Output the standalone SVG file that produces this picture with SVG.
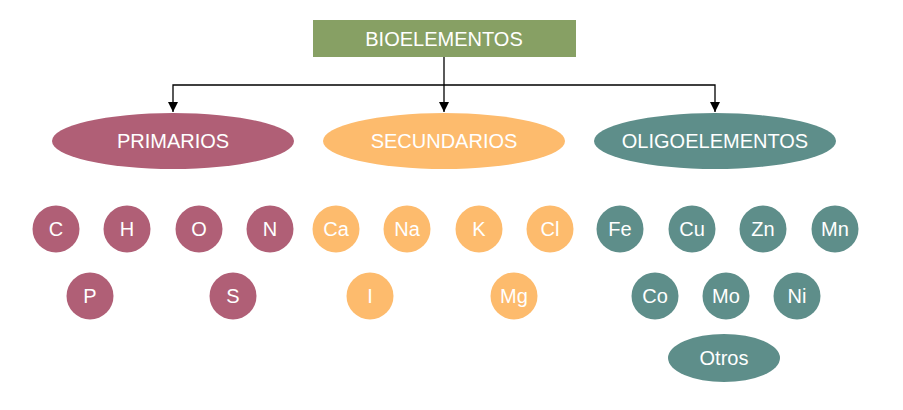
<svg xmlns="http://www.w3.org/2000/svg" width="903" height="410" viewBox="0 0 903 410">
<style>
text{font-family:"Liberation Sans",Arial,sans-serif;fill:#fff;text-anchor:middle;dominant-baseline:central;font-size:20px}
.p{fill:#b05f76}.s{fill:#fdbb6d}.o{fill:#5e8e8a}
</style>
<defs><marker id="a" viewBox="0 0 10 10" refX="10" refY="5" markerWidth="10" markerHeight="12" markerUnits="userSpaceOnUse" orient="auto"><path d="M0,0L10,5L0,10z" fill="#000"/></marker></defs>
<rect width="903" height="410" fill="#fff"/>
<g id="connectors" stroke="#000" stroke-width="1.3" fill="none">
<path d="M444,57V112" marker-end="url(#a)"/>
<path d="M444,85H173V112" marker-end="url(#a)"/>
<path d="M444,85H715V112" marker-end="url(#a)"/>
</g>
<g id="bio"><rect x="313" y="20" width="263" height="37" fill="#87a064"/><text x="444" y="39">BIOELEMENTOS</text></g>
<g id="primarios"><ellipse class="p" cx="173" cy="141" rx="121" ry="28"/><text x="173" y="141">PRIMARIOS</text></g>
<g id="secundarios"><ellipse class="s" cx="444" cy="141" rx="121" ry="28"/><text x="444" y="141">SECUNDARIOS</text></g>
<g id="oligo"><ellipse class="o" cx="715" cy="141" rx="121" ry="28"/><text x="715" y="141">OLIGOELEMENTOS</text></g>
<g id="C"><circle class="p" cx="56" cy="229" r="23.5"/><text x="56" y="229">C</text></g>
<g id="H"><circle class="p" cx="127" cy="229" r="23.5"/><text x="127" y="229">H</text></g>
<g id="O"><circle class="p" cx="199" cy="229" r="23.5"/><text x="199" y="229">O</text></g>
<g id="N"><circle class="p" cx="270" cy="229" r="23.5"/><text x="270" y="229">N</text></g>
<g id="Ca"><circle class="s" cx="336" cy="229" r="23.5"/><text x="336" y="229">Ca</text></g>
<g id="Na"><circle class="s" cx="407" cy="229" r="23.5"/><text x="407" y="229">Na</text></g>
<g id="K"><circle class="s" cx="479" cy="229" r="23.5"/><text x="479" y="229">K</text></g>
<g id="Cl"><circle class="s" cx="550" cy="229" r="23.5"/><text x="550" y="229">Cl</text></g>
<g id="Fe"><circle class="o" cx="620" cy="229" r="23.5"/><text x="620" y="229">Fe</text></g>
<g id="Cu"><circle class="o" cx="692" cy="229" r="23.5"/><text x="692" y="229">Cu</text></g>
<g id="Zn"><circle class="o" cx="763" cy="229" r="23.5"/><text x="763" y="229">Zn</text></g>
<g id="Mn"><circle class="o" cx="835" cy="229" r="23.5"/><text x="835" y="229">Mn</text></g>
<g id="P"><circle class="p" cx="90" cy="296" r="23.5"/><text x="90" y="296">P</text></g>
<g id="S"><circle class="p" cx="233" cy="296" r="23.5"/><text x="233" y="296">S</text></g>
<g id="I"><circle class="s" cx="370" cy="296" r="23.5"/><text x="370" y="296">I</text></g>
<g id="Mg"><circle class="s" cx="514" cy="296" r="23.5"/><text x="514" y="296">Mg</text></g>
<g id="Co"><circle class="o" cx="655" cy="296" r="23.5"/><text x="655" y="296">Co</text></g>
<g id="Mo"><circle class="o" cx="726" cy="296" r="23.5"/><text x="726" y="296">Mo</text></g>
<g id="Ni"><circle class="o" cx="797" cy="296" r="23.5"/><text x="797" y="296">Ni</text></g>
<g id="Otros"><ellipse class="o" cx="724" cy="358" rx="56" ry="24"/><text x="724" y="358">Otros</text></g>
</svg>
